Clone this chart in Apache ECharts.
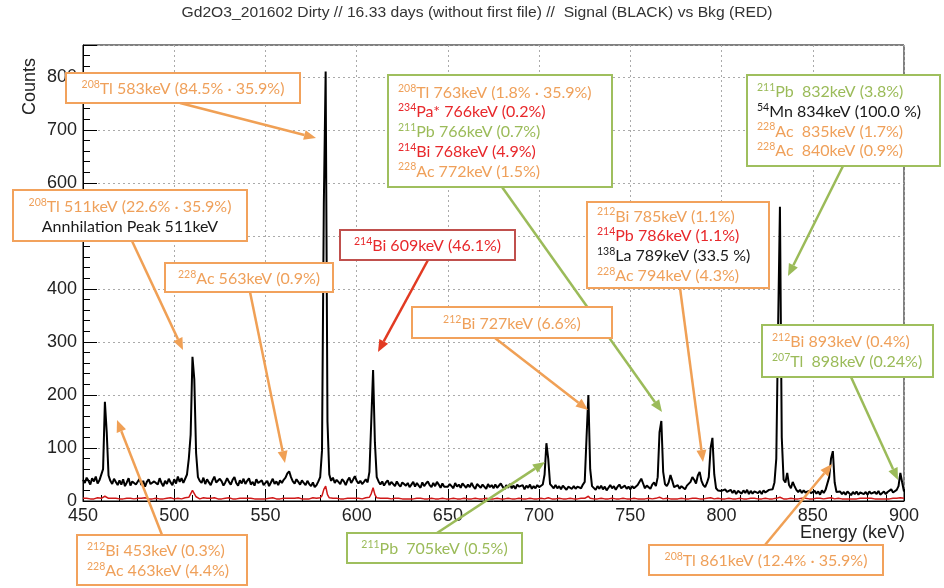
<!DOCTYPE html>
<html>
<head>
<meta charset="utf-8">
<script src="https://cdn.jsdelivr.net/npm/echarts@6/dist/echarts.min.js"></script>
<style>html,body{margin:0;padding:0;background:#fff}#c{width:944px;height:588px}</style>
</head>
<body>
<div id="c"></div>
<script>
// ---- data (1 keV bins, first bin at 450 keV) ----
const energyStart = 450;
const energyStep = 1;
const signal = [
40,34,44,38,31,43,37,46,33,39,
42,60,187,130,48,38,32,42,36,30,
39,31,41,28,35,43,29,37,40,31,
34,42,30,38,27,36,41,32,29,37,
40,31,43,34,28,38,32,42,35,30,
41,33,46,36,43,34,42,50,80,125,
272,230,90,45,38,34,44,32,41,35,
30,39,46,35,32,42,37,29,35,43,
36,31,40,45,34,29,39,33,42,32,
38,43,31,36,29,41,34,32,39,30,
34,38,28,35,42,32,37,30,39,34,
40,44,52,56,45,37,33,41,36,31,
39,34,30,38,32,28,35,26,30,37,
45,95,560,810,150,50,38,44,34,40,
36,32,41,37,30,39,44,34,40,47,
38,33,38,32,36,41,35,55,150,247,
110,45,37,31,37,29,35,39,30,36,
33,28,37,31,27,35,38,29,34,26,
31,36,27,34,29,25,35,28,33,37,
30,26,34,28,36,31,25,33,27,30,
27,32,28,24,34,27,31,25,33,29,
25,31,26,34,27,23,32,29,25,31,
28,23,32,26,30,24,31,25,28,33,
27,22,30,25,32,24,29,23,31,27,
25,30,22,29,25,31,23,28,24,30,
26,23,31,50,109,80,32,28,24,30,
24,28,22,29,25,21,27,30,23,28,
23,27,29,24,31,36,120,200,60,28,
25,21,28,23,29,22,27,20,25,30,
24,28,21,27,31,24,22,29,23,27,
22,28,24,22,30,31,42,33,24,29,
26,23,31,35,28,45,130,151,55,32,
28,35,49,38,26,24,30,23,28,25,
22,29,30,36,45,40,33,48,55,38,
30,26,34,45,100,119,50,24,20,22,
19,16,22,17,14,21,15,20,13,19,
17,14,20,15,21,13,19,14,18,20,
15,19,13,20,16,14,21,18,22,35,
80,330,555,120,40,35,53,30,24,36,
28,21,17,21,15,20,16,14,19,15,
13,19,14,18,12,20,15,21,24,45,
80,94,35,17,14,18,13,17,12,18,
15,11,17,13,18,12,16,19,13,17,
12,18,14,11,17,13,19,12,15,18,
13,17,20,22,16,14,21,28,53,35,
18
];
const background = [
5,4,5,6,4,5,4,5,6,5,
5,6,9,7,5,4,5,4,5,6,
4,5,4,6,5,4,5,5,4,6,
5,4,5,4,6,5,4,5,4,5,
5,6,4,5,4,5,5,4,6,5,
4,5,5,6,4,5,6,5,7,10,
20,14,8,5,4,5,6,4,5,4,
5,4,6,5,4,5,4,5,5,4,
6,5,4,5,4,6,5,4,5,4,
5,4,5,6,4,5,4,5,4,5,
4,5,5,4,6,5,4,5,4,5,
5,4,5,6,5,4,5,4,6,5,
4,5,4,5,4,5,6,4,5,5,
6,10,22,28,12,6,4,5,4,5,
5,4,5,4,6,5,4,5,4,5,
4,5,5,4,5,6,5,7,14,25,
12,6,4,5,4,5,4,5,5,4,
4,5,4,5,4,4,5,4,5,4,
5,4,4,5,4,5,4,4,5,4,
4,5,4,4,5,4,4,5,4,4,
5,4,4,5,4,4,5,4,4,5,
4,4,5,4,4,5,4,4,5,4,
4,5,4,4,5,4,4,5,4,4,
5,4,4,5,4,4,5,4,4,5,
4,4,5,4,4,5,4,4,5,4,
4,5,4,4,5,6,4,4,5,4,
4,5,4,4,5,4,4,5,4,4,
5,4,4,5,4,5,7,9,5,4,
4,5,4,4,5,4,4,5,4,4,
5,4,4,5,4,4,5,4,4,5,
4,4,5,4,4,5,4,5,4,4,
5,4,4,5,5,6,7,5,4,4,
5,4,4,5,4,5,4,4,5,4,
4,5,4,4,5,4,5,4,4,5,
4,4,5,5,6,5,4,4,5,4,
4,5,4,4,5,4,4,5,4,4,
5,4,4,5,4,4,5,4,5,4,
4,5,4,4,5,4,4,5,4,5,
5,6,7,5,4,5,4,4,5,4,
4,5,4,4,5,4,5,4,4,5,
4,4,5,4,5,4,4,5,5,5,
6,5,4,4,5,4,4,5,4,5,
4,5,4,5,4,4,5,4,5,4,
5,4,5,4,4,5,4,5,4,5,
4,5,4,5,5,4,5,4,6,5,
5
];
const xMin = 450, xMax = 900, xStep = 50;
const yMin = 0, yMax = 860, yStep = 100;
const titleText = 'Gd2O3_201602 Dirty // 16.33 days (without first file) //  Signal (BLACK) vs Bkg (RED)';
const xTitle = 'Energy (keV)';
const yTitle = 'Counts';

// annotation texts: [superscript mass number, rest, colour key]
const notes = [
  {lines: [['208','Tl 583keV (84.5% · 35.9%)','o']], box:[66,73,234,30], border:'o', align:'center', arrow:[180,103,316,138], ac:'o'},
  {lines: [['208','Tl 511keV (22.6% · 35.9%)','o'],['','Annhilation Peak 511keV','k']], box:[13,190,234,51], border:'o', align:'center', arrow:[132,241,183,350], ac:'o'},
  {lines: [['228','Ac 563keV (0.9%)','o']], box:[165,263,168,29], border:'o', align:'center', arrow:[250,292,285,463], ac:'o'},
  {lines: [['214','Bi 609keV (46.1%)','r']], box:[340,230,175,30], border:'dr', align:'center', arrow:[428,260,378,352], ac:'r'},
  {lines: [['208','Tl 763keV (1.8% · 35.9%)','o'],['234','Pa* 766keV (0.2%)','r'],['211','Pb 766keV (0.7%)','g'],['214','Bi 768keV (4.9%)','r'],['228','Ac 772keV (1.5%)','o']], box:[388,75,224,112], border:'g', align:'left', arrow:[502,187,662,412], ac:'g'},
  {lines: [['212','Bi 727keV (6.6%)','o']], box:[412,307,200,31], border:'o', align:'center', arrow:[495,338,588,410], ac:'o'},
  {lines: [['212','Bi 785keV (1.1%)','o'],['214','Pb 786keV (1.1%)','r'],['138','La 789keV (33.5 %)','k'],['228','Ac 794keV (4.3%)','o']], box:[587,202,182,86], border:'o', align:'left', arrow:[680,288,703,462], ac:'o'},
  {lines: [['211','Pb  832keV (3.8%)','g'],['54','Mn 834keV (100.0 %)','k'],['228','Ac  835keV (1.7%)','o'],['228','Ac  840keV (0.9%)','o']], box:[747,75,193,91], border:'g', align:'left', arrow:[843,166,788,276], ac:'g'},
  {lines: [['212','Bi 893keV (0.4%)','o'],['207','Tl  898keV (0.24%)','g']], box:[762,325,171,52], border:'g', align:'left', arrow:[851,377,898,480], ac:'g'},
  {lines: [['212','Bi 453keV (0.3%)','o'],['228','Ac 463keV (4.4%)','o']], box:[77,535,170,50], border:'o', align:'left', arrow:[162,535,117,420], ac:'o'},
  {lines: [['211','Pb  705keV (0.5%)','g']], box:[347,533,175,30], border:'g', align:'center', arrow:[437,533,545,462], ac:'g'},
  {lines: [['208','Tl 861keV (12.4% · 35.9%)','o']], box:[649,545,234,30], border:'o', align:'center', arrow:[765,545,832,464], ac:'o'}
];

// ---- styles ----
const COL = {o:'#EFA05A', r:'#E8282B', g:'#9BBB59', k:'#1a1a1a', dr:'#C0504D'};
const BORDER = {o:'#F2A25C', g:'#9FBF5E', dr:'#C0504D'};
const ARROW = {o:'#F0A055', g:'#9BBB59', r:'#E23A22'};
const boxFont = 'Lato, "Open Sans", sans-serif';
const axisFont = '"Liberation Sans", Arial, sans-serif';

const rich = {};
Object.keys(COL).forEach(c => {
  rich['s'+c] = {fontSize:10.5, fill:COL[c], fontFamily:boxFont, verticalAlign:'top', lineHeight:12};
  rich['m'+c] = {fontSize:16, fill:COL[c], fontFamily:boxFont, lineHeight:19.7};
});

function buildNote(n) {
  const [x,y,w,h] = n.box;
  const str = n.lines.map(([s,m,c]) => (s ? `{s${c}|${s}}` : '') + `{m${c}|${m}}`).join('\n');
  const els = [];
  const [x1,y1,x2,y2] = n.arrow;
  const ang = Math.atan2(y2-y1, x2-x1);
  const L = 12, W = 5;
  const bx = x2 - L*Math.cos(ang), by = y2 - L*Math.sin(ang);
  els.push({type:'line', z:100, shape:{x1:x1,y1:y1,x2:bx,y2:by}, style:{stroke:ARROW[n.ac], lineWidth:2.5}});
  els.push({type:'polygon', z:100, shape:{points:[[x2,y2],[bx - W*Math.sin(ang), by + W*Math.cos(ang)],[bx + W*Math.sin(ang), by - W*Math.cos(ang)]]}, style:{fill:ARROW[n.ac]}});
  els.push({type:'rect', z:101, shape:{x:x,y:y,width:w,height:h}, style:{fill:'#fff', stroke:BORDER[n.border], lineWidth:2}});
  els.push({type:'text', z:102, x: n.align==='center' ? x + w/2 : x + 10, y: y + h/2 + 1,
    style:{text:str, rich:rich, align:n.align, verticalAlign:'middle', fontFamily:boxFont}});
  return els;
}

const graphics = [];
notes.forEach(n => graphics.push(...buildNote(n)));
graphics.push({type:'text', z:100, x:477, y:13, scaleX:1.08, style:{text:titleText, fontFamily:'"Liberation Sans", sans-serif', fontSize:14.5, fill:'#333', align:'center', verticalAlign:'middle'}});
graphics.push({type:'text', z:100, x:905, y:533, style:{text:xTitle, fontFamily:axisFont, fontSize:18, fill:'#222', align:'right', verticalAlign:'middle'}});
graphics.push({type:'text', z:100, x:30, y:58, rotation:Math.PI/2, style:{text:yTitle, fontFamily:axisFont, fontSize:18, fill:'#222', align:'right', verticalAlign:'middle'}});

const sigData = signal.map((v,i) => [energyStart + i*energyStep, v]);
const bkgData = background.map((v,i) => [energyStart + i*energyStep, v]);

const chart = echarts.init(document.getElementById('c'), null, {renderer:'canvas'});
chart.setOption({
  animation:false,
  backgroundColor:'#fff',
  grid:{left:83, right:40, top:45, bottom:87, show:true, borderColor:'#000', borderWidth:1, backgroundColor:'transparent'},
  xAxis:{type:'value', min:xMin, max:xMax, interval:xStep,
    axisLine:{lineStyle:{color:'#000', width:1}},
    axisTick:{inside:true, length:12, lineStyle:{color:'#000'}},
    minorTick:{show:true, splitNumber:5, length:6, lineStyle:{color:'#000'}},
    axisLabel:{fontFamily:axisFont, fontSize:18, color:'#222', margin:6},
    splitLine:{show:true, lineStyle:{color:'#aaa', type:[2,3], width:1}}},
  yAxis:{type:'value', min:yMin, max:yMax, interval:yStep,
    axisLine:{show:true, lineStyle:{color:'#000', width:1}},
    axisTick:{show:true, inside:true, length:14, lineStyle:{color:'#000'}},
    minorTick:{show:true, splitNumber:5, length:7, lineStyle:{color:'#000'}},
    axisLabel:{fontFamily:axisFont, fontSize:18, color:'#222', margin:6, showMaxLabel:false},
    splitLine:{show:true, lineStyle:{color:'#aaa', type:[2,3], width:1}}},
  series:[
    {type:'line', data:sigData, showSymbol:false, lineStyle:{color:'#000', width:2}, z:3},
    {type:'line', data:bkgData, showSymbol:false, lineStyle:{color:'#D01818', width:1.5}, z:4}
  ],
  graphic:graphics
});
</script>
</body>
</html>
